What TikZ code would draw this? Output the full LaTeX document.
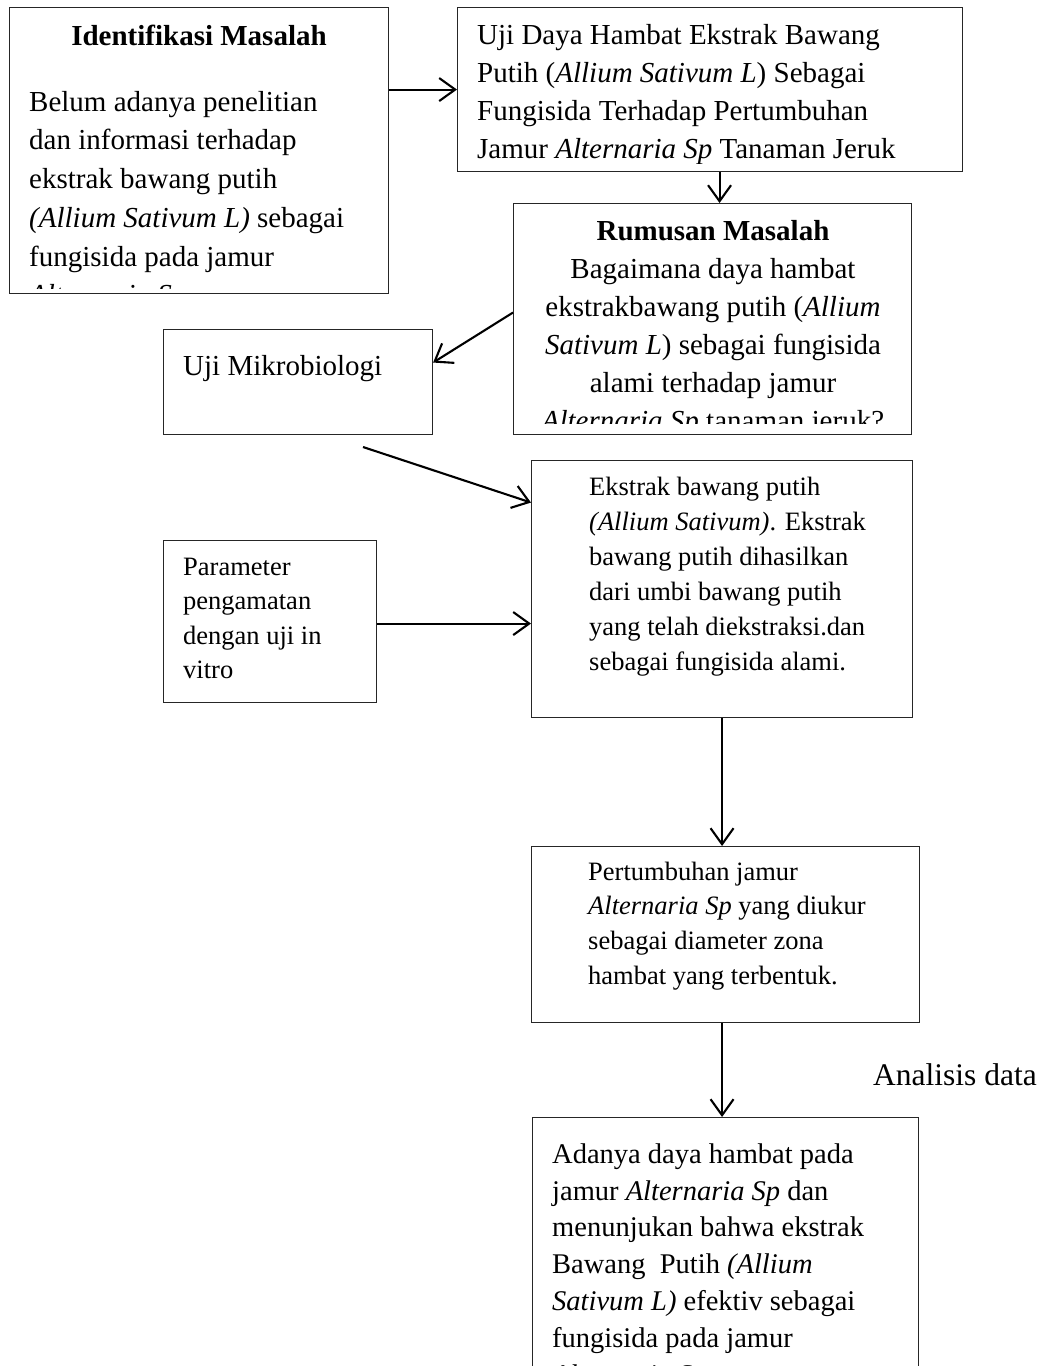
\documentclass[tikz,border=0pt]{standalone}
\usepackage{fontspec}
\setmainfont{Liberation Serif}
\usetikzlibrary{arrows.meta,calc}
\newcommand{\topstrut}{\rule{0pt}{0.75em}}
\begin{document}
\begin{tikzpicture}[x=1pt,y=-1pt,
  boxnode/.style={draw=black!85, line width=1.1pt, anchor=north west, inner sep=0pt, fill=none},
  txt/.style={anchor=north west, inner sep=0pt, align=left, text=black},
  big/.style={font=\fontsize{29}{38.4}\selectfont},
  arr/.style={line width=2.1pt, draw=black, -{Straight Barb[length=16pt,width=23pt,line width=2.1pt]}}]
\useasboundingbox (0,0) rectangle (1046,1371);
\clip (0,0) rectangle (1046,1365);
% boxes
\node[boxnode, minimum width=379pt, minimum height=286pt] (b1) at (9,7) {};
\node[boxnode, minimum width=505pt, minimum height=164pt] (b2) at (457,7) {};
\node[boxnode, minimum width=398pt, minimum height=231pt] (b3) at (513,203) {};
\node[boxnode, minimum width=269pt, minimum height=105pt] (b4) at (163,329) {};
\node[boxnode, minimum width=381pt, minimum height=257pt] (b5) at (531,460) {};
\node[boxnode, minimum width=213pt, minimum height=162pt] (b6) at (163,540) {};
\node[boxnode, minimum width=388pt, minimum height=176pt] (b7) at (531,846) {};
\node[boxnode, minimum width=386pt, minimum height=300pt] (b8) at (532,1117) {};
% box 1 text
\node[anchor=base, inner sep=0pt, font=\fontsize{29}{38.4}\selectfont\bfseries] (t1h) at (199,45) {Identifikasi Masalah};
\begin{scope}
\clip (10,8) rectangle (387,288);
\node[txt, font=\fontsize{29}{38.7}\selectfont] (t1) at (29,89.25) {\topstrut Belum adanya penelitian\\ dan informasi terhadap\\ ekstrak bawang putih\\ \textit{(Allium Sativum L)} sebagai\\ fungisida pada jamur\\ \textit{Alternaria Sp}};
\end{scope}
% box 2 text
\begin{scope}
\clip (458,8) rectangle (960,163);
\node[txt, font=\fontsize{29}{38}\selectfont] (t2) at (477,22.25) {\topstrut Uji Daya Hambat Ekstrak Bawang\\ Putih (\textit{Allium Sativum L}) Sebagai\\ Fungisida Terhadap Pertumbuhan\\ Jamur \textit{Alternaria Sp} Tanaman Jeruk};
\end{scope}
% box 3 text
\begin{scope}
\clip (514,204) rectangle (910,423);
\node[anchor=north, inner sep=0pt, align=center, font=\fontsize{29}{38}\selectfont] (t3) at (713,218.25) {\topstrut\textbf{Rumusan Masalah}\\ Bagaimana daya hambat\\ ekstrakbawang putih (\textit{Allium}\\ \textit{Sativum L}) sebagai fungisida\\ alami terhadap jamur\\ \textit{Alternaria Sp} tanaman jeruk?};
\end{scope}
% box 4 text
\node[txt, big] (t4) at (183,353.25) {\topstrut Uji Mikrobiologi};
% box 5 text
\node[txt, font=\fontsize{26.5}{35}\selectfont] (t5) at (589,475.1) {\topstrut Ekstrak bawang putih\\ \textit{(Allium Sativum)}. Ekstrak\\ bawang putih dihasilkan\\ dari umbi bawang putih\\ yang telah diekstraksi.dan\\ sebagai fungisida alami.};
% box 6 text
\node[txt, font=\fontsize{26.5}{34.5}\selectfont] (t6) at (183,555.1) {\topstrut Parameter\\ pengamatan\\ dengan uji in\\ vitro};
% box 7 text
\node[txt, font=\fontsize{26.5}{34.7}\selectfont] (t7) at (588,860.1) {\topstrut Pertumbuhan jamur\\ \textit{Alternaria Sp} yang diukur\\ sebagai diameter zona\\ hambat yang terbentuk.};
% box 8 text
\node[txt, font=\fontsize{28.5}{36.9}\selectfont] (t8) at (552,1141.6) {\topstrut Adanya daya hambat pada\\ jamur \textit{Alternaria Sp} dan\\ menunjukan bahwa ekstrak\\ Bawang\ \ Putih \textit{(Allium}\\ \textit{Sativum L)} efektiv sebagai\\ fungisida pada jamur\\ \textit{Alternaria Sp}};
% label
\node[anchor=base west, inner sep=0pt, font=\fontsize{31.5}{36}\selectfont] (lab) at (873,1085) {Analisis data};
% connectors
\coordinate (s1) at (363,447);
\draw[arr] (b1.east |- b2.west) -- (b2.west);
\draw[arr] ([xshift=7pt]b3.north |- b2.south) -- ([xshift=7pt]b3.north);
\draw[arr] ([yshift=6.5pt]b3.west) -- ([yshift=19.5pt]b4.east);
\draw[arr] (s1) -- ([yshift=86.5pt]b5.west);
\draw[arr] ([yshift=-2pt]b6.east) -- ([yshift=-2pt]b6.east -| b5.west);
\draw[arr] (b5.south) -- (b5.south |- b7.north);
\draw[arr] (b5.south |- b7.south) -- (b5.south |- b8.north);
\end{tikzpicture}
\end{document}
